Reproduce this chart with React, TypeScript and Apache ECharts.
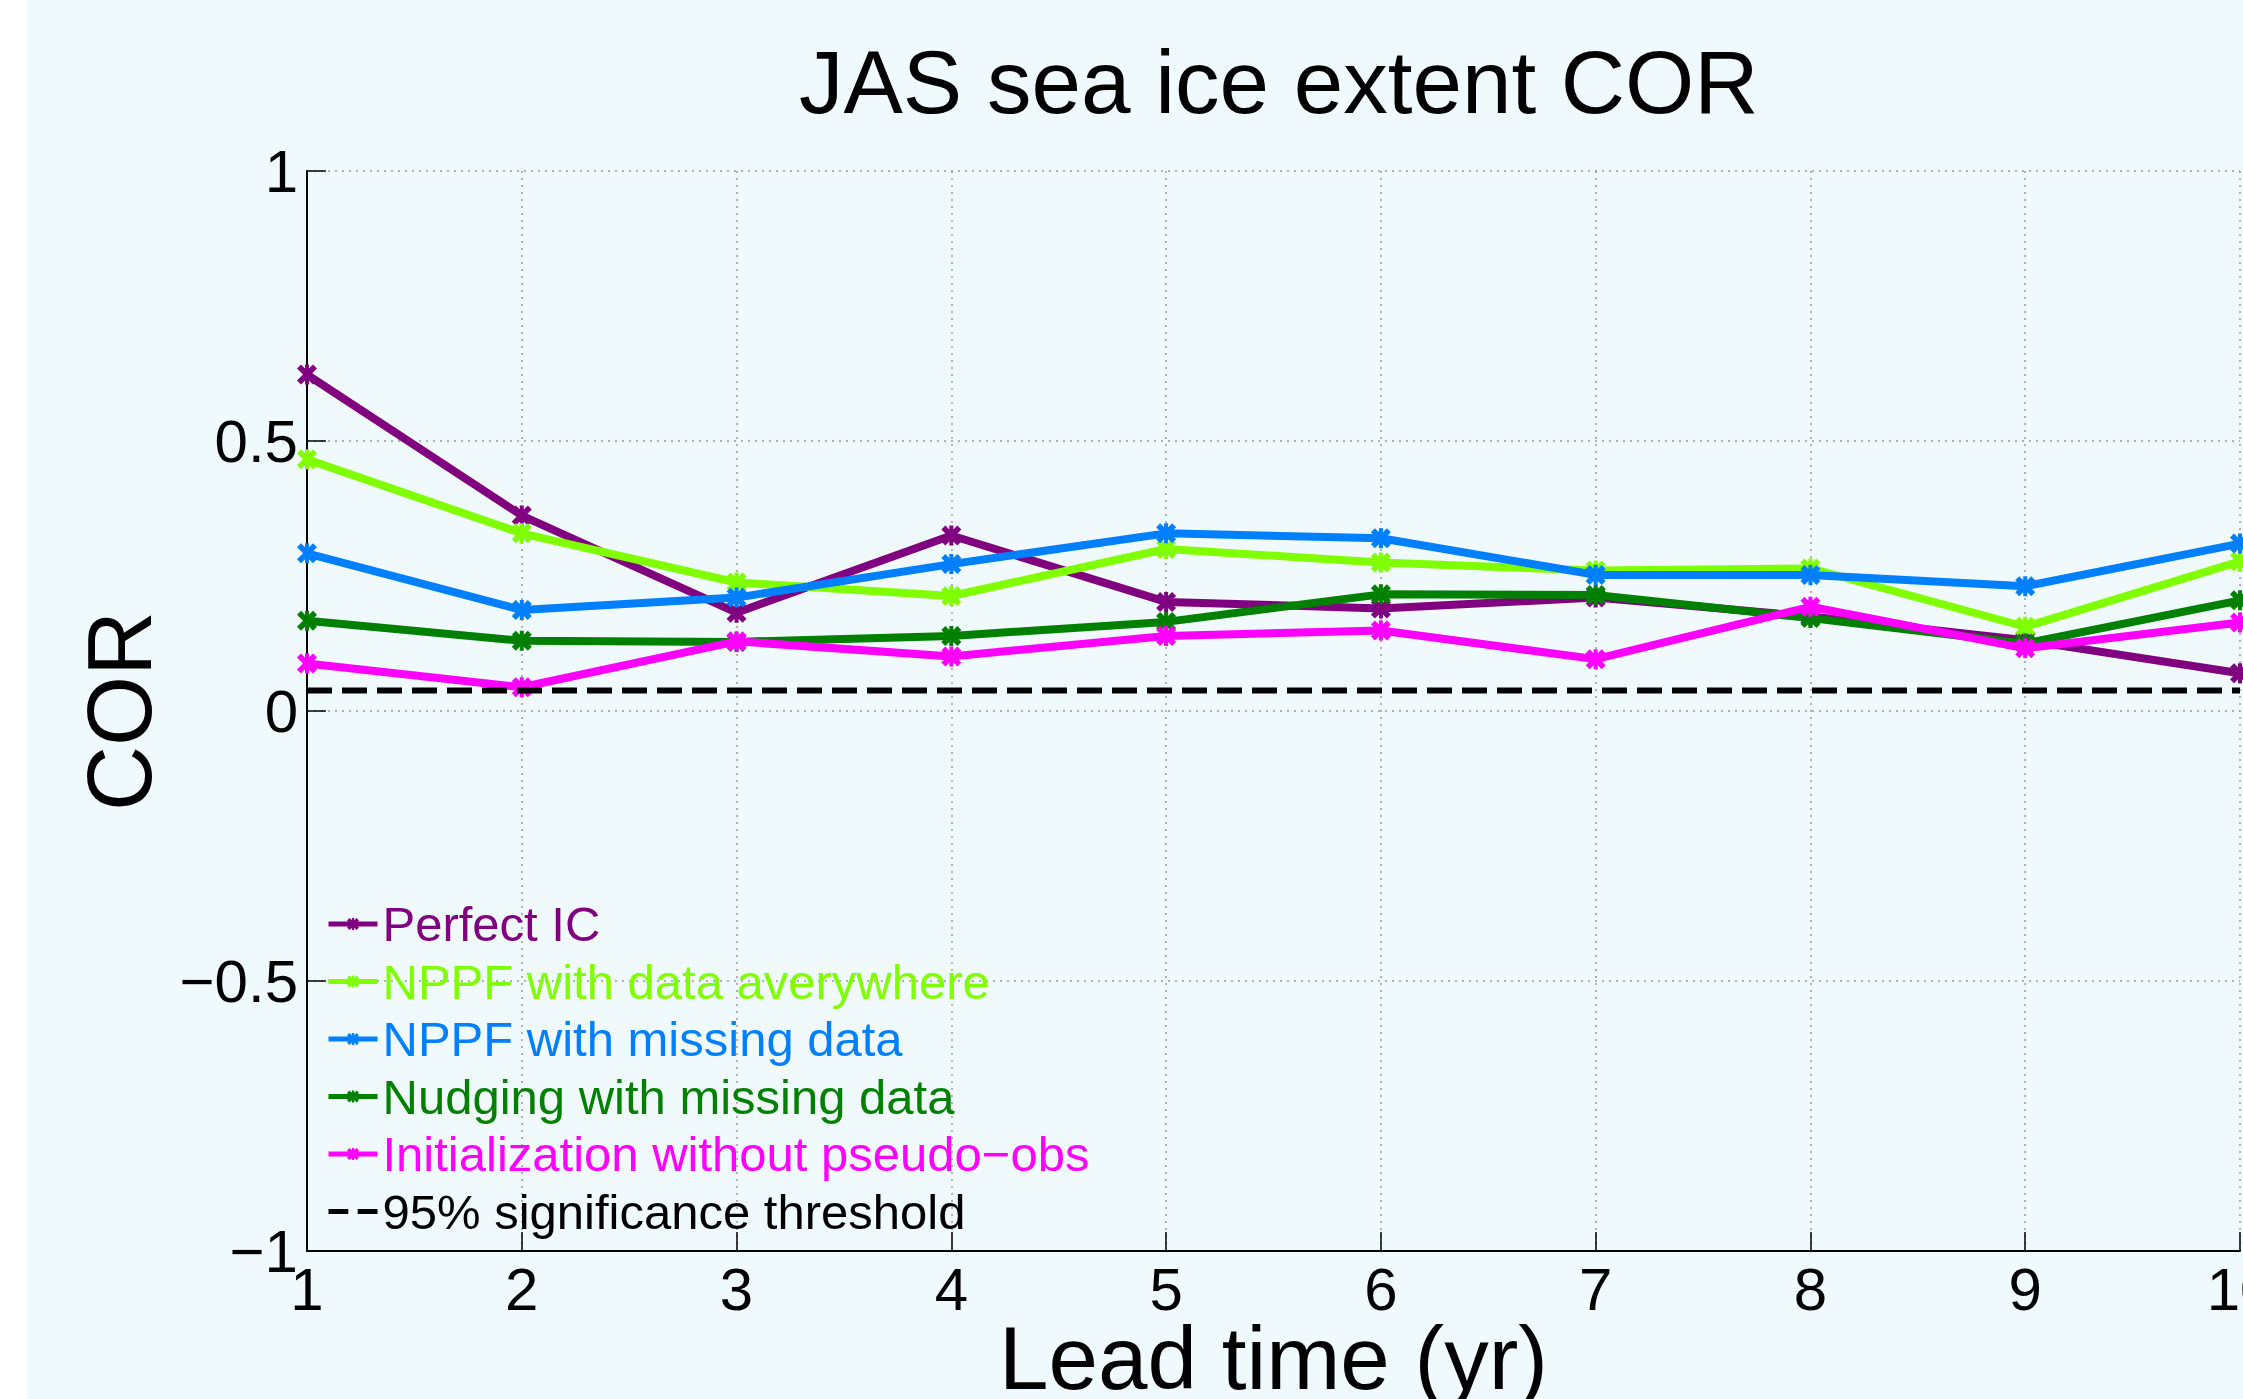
import React, { useEffect, useRef } from "react";
import * as echarts from "echarts";

const leadTimes = [1, 2, 3, 4, 5, 6, 7, 8, 9, 10];
const perfectIC = [0.623, 0.362, 0.182, 0.325, 0.202, 0.19, 0.21, 0.175, 0.131, 0.07];
const nppfEverywhere = [0.466, 0.329, 0.238, 0.213, 0.3, 0.275, 0.26, 0.264, 0.156, 0.277];
const nppfMissing = [0.292, 0.187, 0.21, 0.272, 0.329, 0.32, 0.252, 0.252, 0.231, 0.31];
const nudgingMissing = [0.167, 0.13, 0.128, 0.139, 0.165, 0.216, 0.215, 0.172, 0.125, 0.205];
const initNoPseudo = [0.088, 0.044, 0.129, 0.101, 0.139, 0.149, 0.096, 0.193, 0.116, 0.164];
const threshold = 0.038;

const seriesNames = [
  "Perfect IC",
  "NPPF with data averywhere",
  "NPPF with missing data",
  "Nudging with missing data",
  "Initialization without pseudo\u2212obs",
];
const thresholdName = "95% significance threshold";
const seriesColors = ["#800080", "#80FF00", "#0080FF", "#008000", "#FF00FF"];
const seriesValues = [perfectIC, nppfEverywhere, nppfMissing, nudgingMissing, initNoPseudo];

const FONT = "'Liberation Sans', Arial, Helvetica, sans-serif";
const MARKER =
  "path://M0,4 L4,0 L20,16 L16,20 Z M16,0 L20,4 L4,20 L0,16 Z M8,0 L12,0 L12,20 L8,20 Z";
const DASH_ICON = "path://M0,0 L19,0 L19,5 L0,5 Z M28,0 L47,0 L47,5 L28,5 Z";

export default function App() {
  const ref = useRef<HTMLDivElement>(null);

  useEffect(() => {
    if (!ref.current) return;
    const chart = echarts.init(ref.current, undefined, { renderer: "svg" });

    const lineSeries = seriesValues.map((vals, i) => ({
      name: seriesNames[i],
      type: "line",
      data: leadTimes.map((t, j) => [t, vals[j]]),
      symbol: MARKER,
      symbolSize: 20,
      showSymbol: true,
      color: seriesColors[i],
      lineStyle: { color: seriesColors[i], width: 8 },
      itemStyle: { color: seriesColors[i] },
      z: 3 + i,
    }));

    const option = {
      animation: false,
      backgroundColor: "#F0F9FC",
      title: {
        text: "JAS sea ice extent COR",
        left: 794,
        top: 32,
        textStyle: { fontFamily: FONT, fontSize: 89, fontWeight: "normal", color: "#000" },
      },
      graphic: [
        {
          type: "rect",
          left: 0,
          top: 0,
          shape: { width: 27, height: 1399 },
          style: { fill: "#FFFFFF" },
          silent: true,
        },
      ],
      grid: { left: 307, right: 3, top: 171, bottom: 148, outerBoundsMode: "none", containLabel: false },
      legend: {
        orient: "vertical",
        left: 326,
        top: 899,
        itemWidth: 49,
        itemHeight: 15,
        itemGap: 7.5,
        padding: 0,
        lineStyle: { width: 5 },
        textStyle: { fontFamily: FONT, fontSize: 49, lineHeight: 50 },
        data: [
          ...seriesNames.map((n, i) => ({ name: n, textStyle: { color: seriesColors[i] } })),
          { name: thresholdName, icon: DASH_ICON, textStyle: { color: "#000" } },
        ],
      },
      xAxis: {
        type: "value",
        min: 1,
        max: 10,
        interval: 1,
        name: "Lead time (yr)",
        nameLocation: "middle",
        nameGap: 62,
        nameMoveOverlap: false,
        nameTextStyle: { fontFamily: FONT, fontSize: 89, color: "#000" },
        axisLine: { show: true, onZero: false, lineStyle: { color: "#000", width: 2 } },
        axisTick: { show: true, inside: true, length: 19, lineStyle: { color: "#000", width: 1.5 } },
        axisLabel: { fontFamily: FONT, fontSize: 60, color: "#000", margin: 8.5 },
        splitLine: { show: true, lineStyle: { color: "#9a9a9a", width: 1.5, type: [2, 5] } },
      },
      yAxis: {
        type: "value",
        min: -1,
        max: 1,
        interval: 0.5,
        name: "COR",
        nameLocation: "middle",
        nameGap: 142,
        nameRotate: 90,
        nameMoveOverlap: false,
        nameTextStyle: { fontFamily: FONT, fontSize: 90, color: "#000" },
        axisLine: { show: true, onZero: false, lineStyle: { color: "#000", width: 2 } },
        axisTick: { show: true, inside: true, length: 19, lineStyle: { color: "#000", width: 1.5 } },
        axisLabel: {
          fontFamily: FONT,
          fontSize: 60,
          color: "#000",
          margin: 9,
          formatter: (v: number) => String(v).replace("-", "\u2212"),
        },
        splitLine: { show: true, lineStyle: { color: "#9a9a9a", width: 1.5, type: [2, 5] } },
      },
      series: [
        ...lineSeries,
        {
          name: thresholdName,
          type: "line",
          data: leadTimes
            .filter((_, j) => j === 0 || j === leadTimes.length - 1)
            .map((t) => [t, threshold]),
          symbol: "none",
          color: "#000",
          lineStyle: { color: "#000", width: 6, type: [25, 10] },
          itemStyle: { color: "#000" },
          z: 10,
        },
      ],
    };

    chart.setOption(option as any);
    return () => chart.dispose();
  }, []);

  return (
    <div
      ref={ref}
      style={{ position: "absolute", left: 0, top: 0, width: 2243, height: 1399 }}
    />
  );
}
